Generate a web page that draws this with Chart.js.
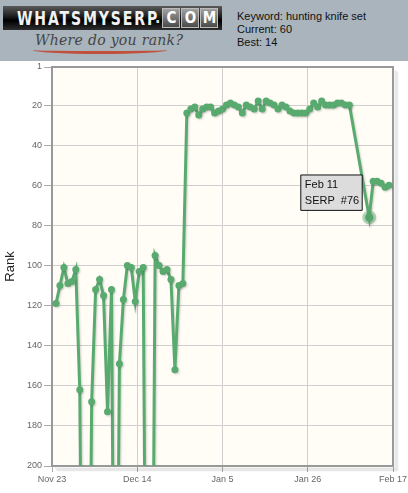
<!DOCTYPE html>
<html>
<head>
<meta charset="utf-8">
<script src="https://cdn.jsdelivr.net/npm/chart.js@4.4.1/dist/chart.umd.min.js"></script>
<style>
html,body{margin:0;padding:0;background:#fff;width:408px;height:493px;overflow:hidden;font-family:"Liberation Sans",Arial,sans-serif;}
#header{position:absolute;left:0;top:0;width:408px;height:61px;background:#a9b4bc;}
#logo{position:absolute;left:3px;top:6px;width:219px;height:24px;overflow:hidden;
  background:linear-gradient(to bottom,#5a5a5a 0%,#222 40%,#000 60%,#2e2e2e 100%);white-space:nowrap;}
#logo .w{position:absolute;left:14px;top:0px;line-height:24px;color:#f2f2f2;font:bold 20px "DejaVu Sans Condensed","DejaVu Sans",sans-serif;
  letter-spacing:2.4px;transform:scaleX(0.78);transform-origin:0 50%;}
#logo .com{position:absolute;left:152px;top:2px;display:flex;}
#logo .d{color:#ddd;font:bold 16px "DejaVu Sans Condensed",sans-serif;line-height:20px;margin-right:1px;}
#logo .b{display:inline-block;width:16px;height:18px;line-height:18px;margin-left:1px;text-align:center;color:#fff;
  background:linear-gradient(to bottom,#a0a0a0,#4a4a4a);border:1px solid #bbb;font:bold 15px "DejaVu Sans Condensed",sans-serif;}
#tag{position:absolute;left:35px;top:32px;font:italic 14px "DejaVu Serif",serif;color:#454545;letter-spacing:0.3px;}
#swoosh{position:absolute;left:33px;top:46px;width:134px;height:5px;border-bottom:3px solid #c0503c;border-radius:0 0 50% 50%;}
#info{position:absolute;left:237px;top:10px;font-size:11px;line-height:13px;color:#111;}
#wrap{position:absolute;left:0;top:62px;width:408px;height:431px;}
</style>
</head>
<body>
<div id="header">
  <div id="logo"><span class="w">WHATSMYSERP</span><span class="com"><span class="d">.</span><span class="b">C</span><span class="b">O</span><span class="b">M</span></span></div>
  <div id="tag">Where do you rank?</div>
  <div id="swoosh"></div>
  <div id="info">Keyword: hunting knife set<br>Current: 60<br>Best: 14</div>
</div>
<div id="wrap"><canvas id="c"></canvas></div>
<script>
// ---- data (day offsets from Nov 23) ----
const xTickDays = [0, 21.5, 43, 64.5, 86];
const xTickLabels = ['Nov 23', 'Dec 14', 'Jan 5', 'Jan 26', 'Feb 17'];
const yTickValues = [1, 20, 40, 60, 80, 100, 120, 140, 160, 180, 200];
const monthNames = ['Jan','Feb','Mar','Apr','May','Jun','Jul','Aug','Sep','Oct','Nov','Dec'];

const days = [
  1, 2, 3, 4, 5, 6, 7, 8, 9, 10, 11, 12, 13, 14, 15, 16, 17, 18, 19, 20,
  21, 22, 23, 24, 25, 26, 27, 28, 29, 30, 31, 32, 33,
  34, 35, 36, 37, 38, 39, 40, 41, 42, 43, 44, 45, 46, 47, 48, 49, 50, 51, 52, 53, 54,
  55, 56, 57, 58, 59, 60, 61, 62, 63, 64, 65, 66, 67, 68, 69, 70, 71, 72, 73, 74, 75,
  80, 81, 82, 83, 84, 85
];
const ranks = [
  119, 110, 101, 109, 108, 102, 162, 400, 400, 168, 112, 107, 115, 173, 112, 400, 149, 117, 100, 101,
  118, 103, 101, 400, 400, 95, 100, 103, 102, 107, 152, 110, 109,
  24, 22, 21, 25, 22, 21, 21, 24, 23, 22, 20, 19, 20, 21, 24, 20, 21, 22, 18, 22, 18,
  19, 20, 22, 20, 21, 23, 24, 24, 24, 24, 22, 19, 21, 18, 20, 20, 20, 19, 19, 20, 20,
  76, 58, 58, 59, 61, 60
];
const highlightDay = 80;

const GREEN = '#59aa6f';
const FONT = '"Liberation Sans", Arial, sans-serif';

function dayLabel(d) {
  const dt = new Date(2013, 10, 23 + d);
  return monthNames[dt.getMonth()] + ' ' + dt.getDate();
}

Chart.Tooltip.positioners.leftAbove = function (elements) {
  if (!elements.length) return false;
  const el = elements[0].element;
  return { x: el.x - 7, y: el.y - 7 };
};

const bgPlugin = {
  id: 'bgPlugin',
  beforeDraw(chart) {
    const a = chart.chartArea, c = chart.ctx;
    c.save();
    c.fillStyle = '#fffdf6';
    c.fillRect(a.left, a.top, a.right - a.left, a.bottom - a.top);
    c.restore();
  },
  beforeDatasetsDraw(chart) {
    const a = chart.chartArea, c = chart.ctx;
    c.save();
    for (let i = 1; i <= 3; i++) {
      c.strokeStyle = 'rgba(0,0,0,0.08)';
      c.lineWidth = 1.5;
      c.beginPath();
      c.moveTo(a.right + 1 + i * 1.2, a.top + 2 + i);
      c.lineTo(a.right + 1 + i * 1.2, a.bottom + 1 + i * 1.2);
      c.lineTo(a.left + 2 + i, a.bottom + 1 + i * 1.2);
      c.stroke();
    }
    c.strokeStyle = '#999999';
    c.lineWidth = 2;
    c.strokeRect(a.left, a.top, a.right - a.left, a.bottom - a.top);
    c.restore();
  }
};

const shadowPlugin = {
  id: 'shadowPlugin',
  beforeDatasetsDraw(chart) {
    const c = chart.ctx;
    c.save();
    c.shadowColor = 'rgba(0,0,0,0.16)';
    c.shadowBlur = 2;
    c.shadowOffsetX = 1.2;
    c.shadowOffsetY = 1.2;
  },
  afterDatasetsDraw(chart) { chart.ctx.restore(); }
};

const chart = new Chart(document.getElementById('c'), {
  type: 'line',
  data: {
    datasets: [{
      data: days.map((d, i) => ({ x: d, y: ranks[i] })),
      borderColor: GREEN,
      backgroundColor: GREEN,
      borderWidth: 3,
      pointRadius: 3.5,
      pointBorderWidth: 0,
      pointBackgroundColor: GREEN,
      pointHoverRadius: 4,
      pointHoverBorderWidth: 6,
      pointHoverBorderColor: 'rgba(89,170,111,0.45)',
      pointHoverBackgroundColor: GREEN,
      tension: 0,
      fill: false,
      clip: 0
    }]
  },
  options: {
    responsive: true,
    maintainAspectRatio: false,
    animation: false,
    events: [],
    layout: { autoPadding: false, padding: { top: 5, right: 15, left: 0, bottom: 0 } },
    plugins: {
      legend: { display: false },
      tooltip: {
        enabled: true,
        position: 'leftAbove',
        xAlign: 'right',
        yAlign: 'bottom',
        caretSize: 0,
        caretPadding: 0,
        cornerRadius: 0,
        backgroundColor: '#dcdcdc',
        borderColor: '#111',
        borderWidth: 1,
        titleColor: '#111',
        bodyColor: '#111',
        titleFont: { family: FONT, size: 11, weight: 'normal' },
        bodyFont: { family: FONT, size: 11 },
        titleMarginBottom: 3,
        padding: { left: 4, right: 3, top: 3, bottom: 3 },
        displayColors: false,
        callbacks: {
          title: items => dayLabel(items[0].parsed.x),
          label: item => 'SERP  #' + item.parsed.y
        }
      }
    },
    scales: {
      x: {
        type: 'linear',
        min: 0,
        max: 86,
        afterBuildTicks: s => { s.ticks = xTickDays.map(v => ({ value: v })); },
        afterFit: s => { s.height = 27; s.paddingLeft = 0; s.paddingRight = 0; },
        ticks: {
          autoSkip: false, maxRotation: 0, padding: 2,
          color: '#666', font: { family: FONT, size: 9 },
          callback: (v, i) => xTickLabels[i]
        },
        grid: { color: '#cfcfcf', lineWidth: 1, tickColor: '#aaa', tickLength: 6, drawTicks: true },
        border: { display: false }
      },
      y: {
        type: 'linear',
        reverse: true,
        min: 1,
        max: 200,
        afterBuildTicks: s => { s.ticks = yTickValues.map(v => ({ value: v })); },
        afterFit: s => { s.width = 52; s.paddingTop = 0; s.paddingBottom = 0; },
        ticks: {
          autoSkip: false, padding: 2,
          color: '#666', font: { family: FONT, size: 9 }
        },
        grid: { color: '#cfcfcf', lineWidth: 1, tickColor: '#aaa', tickLength: 8, drawTicks: true },
        border: { display: false },
        title: {
          display: true, text: 'Rank', color: '#222',
          font: { family: FONT, size: 13 }, padding: { top: 3, bottom: 0 }
        }
      }
    }
  },
  plugins: [bgPlugin, shadowPlugin]
});

const hIdx = days.indexOf(highlightDay);
chart.setActiveElements([{ datasetIndex: 0, index: hIdx }]);
const hp = chart.getDatasetMeta(0).data[hIdx];
chart.tooltip.setActiveElements([{ datasetIndex: 0, index: hIdx }], { x: hp.x, y: hp.y });
chart.update();
</script>
</body>
</html>
